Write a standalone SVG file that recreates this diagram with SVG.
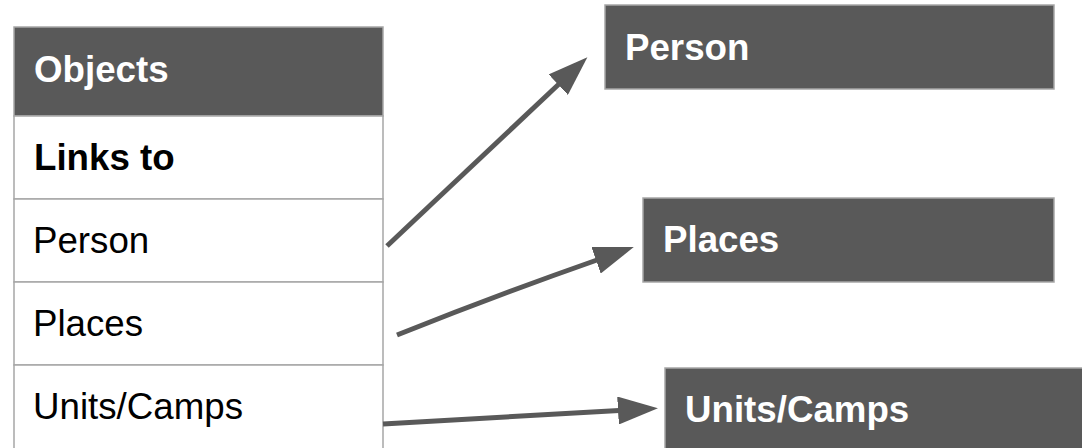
<svg xmlns="http://www.w3.org/2000/svg" width="1082" height="448" viewBox="0 0 1082 448">
<style>
.cell{fill:#ffffff;stroke:#a6a6a6;stroke-width:1.5}
.head{fill:#595959;stroke:#a6a6a6;stroke-width:1.5}
.box{fill:#595959;stroke:#a6a6a6;stroke-width:1.5}
.t{font-family:"Liberation Sans",Arial,sans-serif;font-size:36.7px;fill:#000000}
.b{font-weight:bold}
.w{fill:#ffffff;font-weight:bold}
.conn{stroke:#595959;stroke-width:5;fill:none}
</style>
<defs>
<marker id="ah" viewBox="0 0 40 28" refX="1" refY="14" markerWidth="40" markerHeight="28" markerUnits="userSpaceOnUse" orient="auto">
<path d="M0,0 L40,14 L0,28 z" fill="#595959"/>
</marker>
</defs>
<g id="objects-table">
<rect class="head" x="14" y="27" width="369" height="89"/>
<text class="t w" x="34" y="82">Objects</text>
<rect class="cell" x="14" y="116" width="369" height="83"/>
<text class="t b" x="34" y="170">Links to</text>
<rect class="cell" x="14" y="199" width="369" height="83"/>
<text class="t" x="33" y="253">Person</text>
<rect class="cell" x="14" y="282" width="369" height="83"/>
<text class="t" x="33" y="336">Places</text>
<rect class="cell" x="14" y="365" width="369" height="90"/>
<text class="t" x="33" y="419">Units/Camps</text>
</g>
<g id="node-person">
<rect class="box" x="605" y="5" width="449" height="84"/>
<text class="t w" x="625" y="60">Person</text>
</g>
<g id="node-places">
<rect class="box" x="643" y="198" width="411" height="84"/>
<text class="t w" x="663" y="252">Places</text>
</g>
<g id="node-units">
<rect class="box" x="665" y="368" width="430" height="90"/>
<text class="t w" x="685" y="422">Units/Camps</text>
</g>
<g id="connectors">
<line class="conn" x1="387" y1="246" x2="559" y2="84" marker-end="url(#ah)"/>
<path class="conn" d="M397,335 Q500,294 597,260" marker-end="url(#ah)"/>
<line class="conn" x1="383" y1="424" x2="619" y2="410.5" marker-end="url(#ah)"/>
</g>
</svg>
